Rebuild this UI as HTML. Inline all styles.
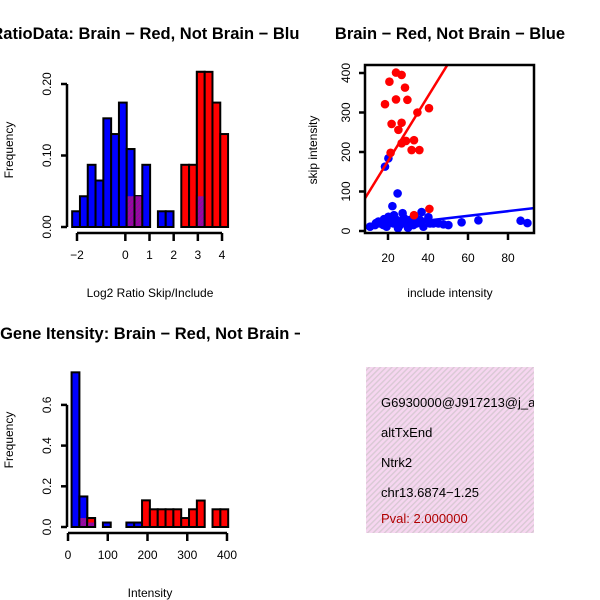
<!DOCTYPE html>
<html><head><meta charset="utf-8"><style>
html,body{margin:0;padding:0;background:#fff}
svg{display:block;font-family:"Liberation Sans",sans-serif}
</style></head><body>
<svg id="s" width="600" height="600" viewBox="0 0 600 600">
<defs>
<pattern id="hatch" width="4" height="4" patternUnits="userSpaceOnUse" patternTransform="rotate(45)">
<rect width="4" height="4" fill="#f6d6f0"/><rect width="1.4" height="4" fill="#d9c9d4"/></pattern>
<pattern id="ph" width="3" height="3" patternUnits="userSpaceOnUse" patternTransform="rotate(45)">
<rect width="3" height="3" fill="#a000a8"/><rect width="1" height="3" fill="#7a2090"/></pattern>
<clipPath id="c1"><rect x="0" y="0" width="300" height="300"/></clipPath>
<clipPath id="c3"><rect x="0" y="300" width="300" height="300"/></clipPath>
<clipPath id="c2"><rect x="365" y="65" width="169" height="168"/></clipPath>
<clipPath id="c4"><rect x="366" y="367" width="168" height="166"/></clipPath>
</defs>
<g id="p1"></g>
<g id="p2"></g>
<g id="p3"></g>
<g>
<rect x="366" y="367" width="168" height="166" fill="url(#hatch)"/>
<g clip-path="url(#c4)" font-size="13">
<text x="381" y="407">G6930000@J917213@j_at_4</text>
<text x="381" y="437">altTxEnd</text>
<text x="381" y="467">Ntrk2</text>
<text x="381" y="497">chr13.6874−1.25</text>
<text x="381" y="523" fill="#b00000">Pval: 2.000000</text>
</g></g>
</svg>
<script>
// ---- data: ratio histogram ----
const ratioBinStart = -2.2;
const ratioBinWidth = 0.3225;
const ratioBlue = [0.022,0.043,0.087,0.065,0.152,0.13,0.174,0.109,0.043,0.087,0,0.022,0.022,0,0,0,0.043,0,0,0];
const ratioRed  = [0,0,0,0,0,0,0,0.043,0.043,0,0,0,0,0,0.087,0.087,0.217,0.217,0.174,0.13];
const ratioXTicks = [-2,0,1,2,3,4];
const ratioYTicks = [0,0.1,0.2];
const ratioYTickLabels = ["0.00","0.10","0.20"];
// ---- data: scatter ----
const redX = [20.7,24,26.8,18.5,24,28.5,29.7,21.8,26.8,25.2,34.7,40.5,26.8,29,33,31.8,35.7,21.3,40.7,33];
const redY = [378,401,395,321,333,363,332,271,274,256,300,311,222,228,230,205,205,198,56,40];
const blueX = [18.5,20.2,24.8,22.2,37,56.8,65.2,86.3,89.7,40.2,27.3,36.8,11,13.5,15.2,16,17.7,19.3,20.2,21,22.7,24.3,26,27.7,29.3,31,32.7,33.5,34.3,36,37.7,41,42.7,45.2,47.7,50.2,14,18,23,28,32,30,25,19];
const blueY = [163,184,95,63,24,22,27,26,20,35,45,48,11,15,24,19,15,11,36,24,19,28,15,24,19,28,15,36,19,28,11,19,19,19,17,15,20,30,40,33,22,8,7,30];
const redFit = [13, 8.2];   // intercept, slope
const blueFit = [3, 0.59];
const scXTicks = [20,40,60,80];
const scYTicks = [0,100,200,300,400];
// ---- data: intensity histogram ----
const intBinStart = 9;
const intBinWidth = 19.7;
const intBlue = [0.76,0.15,0.022,0,0.022,0,0,0.022,0.022,0,0,0,0,0,0,0,0,0,0,0];
const intRed  = [0,0.044,0.044,0,0,0,0,0,0,0.131,0.087,0.087,0.087,0.087,0.044,0.087,0.13,0,0.087,0.087];
const intXTicks = [0,100,200,300,400];
const intYTicks = [0,0.2,0.4,0.6];
const intYTickLabels = ["0.0","0.2","0.4","0.6"];

const NS="http://www.w3.org/2000/svg";
function mk(parent,tag,attrs,txt){const e=document.createElementNS(NS,tag);for(const k in attrs)e.setAttribute(k,attrs[k]);if(txt!==undefined)e.textContent=txt;parent.appendChild(e);return e;}

function histogram(g,o){
  const X=v=>o.x0+(v-o.d0)*o.kx, Y=v=>o.y0-v*o.ky;
  for(let i=0;i<o.blue.length;i++){
    const a=X(o.start+i*o.w), b=X(o.start+(i+1)*o.w);
    const bl=o.blue[i], rd=o.red[i];
    if(bl>0){const r=mk(g,'rect',{x:a,y:Y(bl),width:b-a,height:Y(0)-Y(bl),fill:'#0000ff',stroke:'#000','stroke-width':2});
      
      }
    if(rd>0){const r=mk(g,'rect',{x:a,y:Y(rd),width:b-a,height:Y(0)-Y(rd),fill:'#ff0000',stroke:'#000','stroke-width':2});
      
      }
    if(bl>0&&rd>0){const m=Math.min(bl,rd);
      const top=Math.max(bl,rd);
      const tc=bl>rd?'#0000ff':'#ff0000';
      mk(g,'rect',{x:a,y:Y(top),width:b-a,height:Y(0)-Y(top),fill:tc,stroke:'#000','stroke-width':2});
      const r=mk(g,'rect',{x:a+1,y:Y(m),width:b-a-2,height:Y(0)-Y(m)-1,fill:'url(#ph)'});
      
      }
  }
  const ya=mk(g,'line',{x1:o.yx,x2:o.yx,y1:Y(o.yt[0]),y2:Y(o.yt[o.yt.length-1]),stroke:'#000','stroke-width':2.5});
  
  
  o.yt.forEach((t,i)=>{mk(g,'line',{x1:o.yx-6,x2:o.yx,y1:Y(t),y2:Y(t),stroke:'#000','stroke-width':2.5});
    const tx=mk(g,'text',{x:0,y:0,transform:`translate(${o.yx-16},${Y(t)}) rotate(-90)`,'text-anchor':'middle','font-size':12},o.ytl[i]);
    
    });
  const xa=mk(g,'line',{x1:X(o.xt[0]),x2:X(o.xt[o.xt.length-1]),y1:o.xy,y2:o.xy,stroke:'#000','stroke-width':2.5});
  
  
  o.xt.forEach(t=>{mk(g,'line',{x1:X(t),x2:X(t),y1:o.xy,y2:o.xy+8,stroke:'#000','stroke-width':2.5});
    const tx=mk(g,'text',{x:X(t),y:o.xy+26,'text-anchor':'middle','font-size':12},String(t).replace('-','−'));
    
    });
  const yl=mk(g,'text',{transform:`translate(13,${o.ylc}) rotate(-90)`,'text-anchor':'middle','font-size':12},'Frequency');
  
  
  const xl=mk(g,'text',{x:150,y:o.xly,'text-anchor':'middle','font-size':12},o.xlab);
  
  
  const tg=mk(g,'g',{'clip-path':o.clip});
  const ti=mk(tg,'text',{x:150,y:o.ty,'text-anchor':'middle','font-size':16.5,'font-weight':'bold'},o.title);
  
  
}

histogram(document.getElementById('p1'),{x0:77,d0:-2,kx:24.17,y0:227,ky:715,start:ratioBinStart,w:ratioBinWidth,
  blue:ratioBlue,red:ratioRed,yt:ratioYTicks,ytl:ratioYTickLabels,xt:ratioXTicks,yx:67,xy:233,ylc:150,xly:297,
  xlab:'Log2 Ratio Skip/Include',title:'RatioData: Brain − Red, Not Brain − Blue',ty:39,clip:'url(#c1)'});
histogram(document.getElementById('p3'),{x0:68,d0:0,kx:0.3975,y0:527,ky:203.5,start:intBinStart,w:intBinWidth,
  blue:intBlue,red:intRed,yt:intYTicks,ytl:intYTickLabels,xt:intXTicks,yx:67,xy:533,ylc:440,xly:597,
  xlab:'Intensity',title:'Log2 Gene Itensity: Brain − Red, Not Brain − Blue',ty:339,clip:'url(#c3)'});

(function(){
  const g=document.getElementById('p2');
  const X=v=>388+(v-20)*2, Y=v=>231-v*0.395;
  const pg=mk(g,'g',{'clip-path':'url(#c2)'});
  blueX.forEach((x,i)=>{const c=mk(pg,'circle',{cx:X(x),cy:Y(blueY[i]),r:4.3,fill:'#0000ff'});
    
    });
  redX.forEach((x,i)=>{const c=mk(pg,'circle',{cx:X(x),cy:Y(redY[i]),r:4.3,fill:'#ff0000'});
    
    });
  const fits=[[redFit,'#ff0000','red-fit-line'],[blueFit,'#0000ff','blue-fit-line']];
  fits.forEach(f=>{const a=0,b=100;const l=mk(pg,'line',{x1:X(a),y1:Y(f[0][0]+f[0][1]*a),x2:X(b),y2:Y(f[0][0]+f[0][1]*b),stroke:f[1],'stroke-width':2.5});
    
    });
  const box=mk(g,'rect',{x:365,y:65,width:169,height:168,fill:'none',stroke:'#000','stroke-width':2.5});
  
  
  scYTicks.forEach(t=>{mk(g,'line',{x1:359,x2:365,y1:Y(t),y2:Y(t),stroke:'#000','stroke-width':2.5});
    const tx=mk(g,'text',{transform:`translate(${350},${Y(t)}) rotate(-90)`,'text-anchor':'middle','font-size':12},String(t));
    
    });
  scXTicks.forEach(t=>{mk(g,'line',{x1:X(t),x2:X(t),y1:233,y2:240,stroke:'#000','stroke-width':2.5});
    const tx=mk(g,'text',{x:X(t),y:262,'text-anchor':'middle','font-size':12},String(t));
    
    });
  const yl=mk(g,'text',{transform:'translate(317,150) rotate(-90)','text-anchor':'middle','font-size':12},'skip intensity');
  
  
  const xl=mk(g,'text',{x:450,y:297,'text-anchor':'middle','font-size':12},'include intensity');
  
  
  const ti=mk(g,'text',{x:450,y:39,'text-anchor':'middle','font-size':16.5,'font-weight':'bold'},'Brain − Red, Not Brain − Blue');
  
  
})();
</script>
</body></html>
